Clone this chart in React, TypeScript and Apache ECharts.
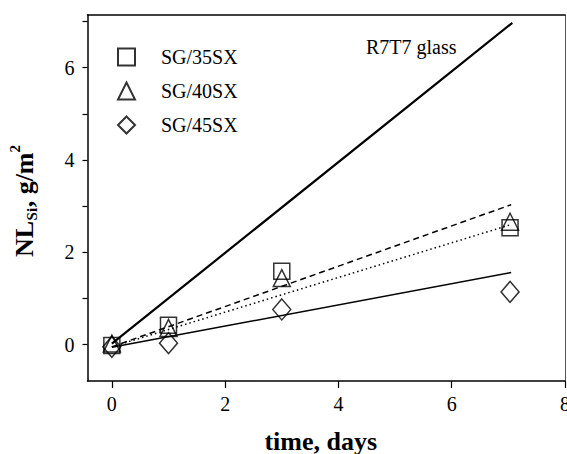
import React, { useEffect, useRef } from "react";
import * as echarts from "echarts";

// ---- data ----
const days = [0, 1, 3, 7.03];
const sg35 = [-0.02, 0.42, 1.59, 2.53];
const sg40 = [0.02, 0.36, 1.44, 2.66];
const sg45 = [-0.05, 0.03, 0.76, 1.14];

// fit lines (endpoints)
const r7t7X = [0, 7.07];
const r7t7Y = [0.02, 6.97];
const fitX = [0, 7.05];
const fitDashed = [-0.05, 3.03];
const fitDotted = [-0.05, 2.6];
const fitSolid = [-0.06, 1.56];

const xTicks = [0, 2, 4, 6, 8];
const yTicks = [0, 1, 2, 3, 4, 5, 6, 7];
const yLabels = [0, 2, 4, 6];

const seriesNames = ["SG/35SX", "SG/40SX", "SG/45SX"];

const FONT = "Liberation Serif, serif";

function pairs(xs: number[], ys: number[]) {
  return xs.map((x, i) => [x, ys[i]]);
}

function measure(text: string, font: string) {
  const c = document.createElement("canvas").getContext("2d");
  if (!c) return text.length * 10;
  c.font = font;
  return c.measureText(text).width;
}

export default function App() {
  const ref = useRef<HTMLDivElement>(null);
  useEffect(() => {
    document.body.style.margin = "0";
    if (!ref.current) return;
    const chart = echarts.init(ref.current, undefined, { renderer: "svg" });

    const baseFont = `bold 26px "Liberation Serif"`;
    const smallFont = `bold 15px "Liberation Serif"`;
    const w1 = measure("NL", baseFont);
    const w2 = measure("Si", smallFont);
    const w3 = measure(", g/m", baseFont);
    const mk = (text: string, x: number, y: number, size: number) => ({
      type: "text",
      x,
      y,
      style: {
        text,
        fontFamily: FONT,
        fontWeight: "bold",
        fontSize: size,
        fill: "#000",
        align: "left",
        verticalAlign: "middle",
      },
    });

    const scatterStyle = {
      color: "rgba(0,0,0,0)",
      borderColor: "#000",
      borderWidth: 1.5,
    };

    chart.setOption({
      animation: false,
      backgroundColor: "#fff",
      grid: { left: 87.5, right: 2, top: 15, bottom: 73, outerBoundsMode: "none", containLabel: false },
      xAxis: [
        {
          type: "value",
          min: -0.43,
          max: 8,
          name: "time, days",
          nameLocation: "middle",
          nameGap: 47,
          nameTextStyle: {
            fontFamily: FONT,
            fontWeight: "bold",
            fontSize: 26,
            color: "#000",
            padding: [0, 11, 0, 0],
          },
          axisLine: { show: true, onZero: false, lineStyle: { color: "#000", width: 1.5 } },
          axisTick: { show: true, inside: false, length: 7, customValues: xTicks, lineStyle: { color: "#000", width: 1.2 } },
          axisLabel: { customValues: xTicks, margin: 13, fontFamily: FONT, fontSize: 20, color: "#000" },
          splitLine: { show: false },
        },
        {
          type: "value",
          position: "top",
          min: -0.43,
          max: 8,
          axisLine: { show: true, onZero: false, lineStyle: { color: "#000", width: 1.5 } },
          axisTick: { show: false },
          axisLabel: { show: false },
          splitLine: { show: false },
        },
      ],
      yAxis: [
        {
          type: "value",
          min: -0.79,
          max: 7.14,
          axisLine: { show: true, onZero: false, lineStyle: { color: "#000", width: 1.5 } },
          axisTick: { show: true, inside: false, length: 5, customValues: yTicks, lineStyle: { color: "#000", width: 1.2 } },
          axisLabel: { customValues: yLabels, margin: 13, fontFamily: FONT, fontSize: 20, color: "#000" },
          splitLine: { show: false },
        },
        {
          type: "value",
          position: "right",
          min: -0.79,
          max: 7.14,
          axisLine: { show: true, onZero: false, lineStyle: { color: "#555", width: 1 } },
          axisTick: { show: false },
          axisLabel: { show: false },
          splitLine: { show: false },
        },
      ],
      legend: {
        orient: "vertical",
        left: 117,
        top: 47,
        padding: 0,
        itemWidth: 17,
        itemHeight: 17,
        itemGap: 14,
        data: seriesNames,
        textStyle: { fontFamily: FONT, fontSize: 20, color: "#000", padding: [0, 0, 0, 21] },
      },
      graphic: [
        {
          type: "text",
          x: 366,
          y: 46.5,
          style: {
            text: "R7T7 glass",
            fontFamily: FONT,
            fontSize: 20,
            fill: "#000",
            align: "left",
            verticalAlign: "middle",
          },
        },
        {
          type: "group",
          x: 24,
          y: 257,
          rotation: Math.PI / 2,
          children: [
            mk("NL", 0, 0, 26),
            mk("Si", w1 + 0.5, 8, 15),
            mk(", g/m", w1 + w2 + 1, 0, 26),
            mk("2", w1 + w2 + w3 + 1, -9, 15),
          ],
        },
      ],
      series: [
        {
          name: "R7T7",
          type: "line",
          data: pairs(r7t7X, r7t7Y),
          showSymbol: false,
          lineStyle: { color: "#000", width: 2.2 },
          silent: true,
        },
        {
          name: "fitDashed",
          type: "line",
          data: pairs(fitX, fitDashed),
          showSymbol: false,
          lineStyle: { color: "#000", width: 1.5, type: [6, 4] },
          silent: true,
        },
        {
          name: "fitDotted",
          type: "line",
          data: pairs(fitX, fitDotted),
          showSymbol: false,
          lineStyle: { color: "#000", width: 1.5, type: [1.5, 3] },
          silent: true,
        },
        {
          name: "fitSolid",
          type: "line",
          data: pairs(fitX, fitSolid),
          showSymbol: false,
          lineStyle: { color: "#000", width: 1.5 },
          silent: true,
        },
        {
          name: seriesNames[0],
          type: "scatter",
          symbol: "rect",
          symbolSize: 16,
          data: pairs(days, sg35),
          itemStyle: scatterStyle,
        },
        {
          name: seriesNames[1],
          type: "scatter",
          symbol: "triangle",
          symbolSize: 17,
          data: pairs(days, sg40),
          itemStyle: scatterStyle,
        },
        {
          name: seriesNames[2],
          type: "scatter",
          symbol: "diamond",
          symbolSize: [18, 21],
          data: pairs(days, sg45),
          itemStyle: scatterStyle,
        },
      ],
    });
    return () => chart.dispose();
  }, []);
  return <div ref={ref} style={{ width: 567, height: 454 }} />;
}
